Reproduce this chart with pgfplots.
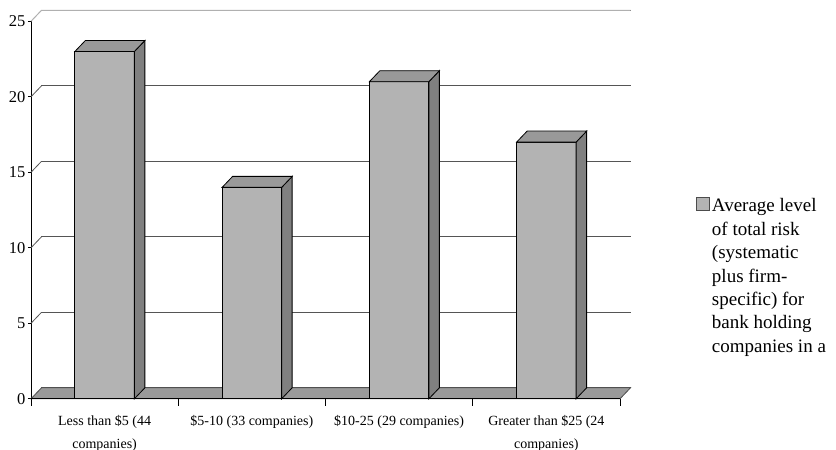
\documentclass[border=0pt]{standalone}
\usepackage{fontspec}
\setmainfont{Liberation Serif}
\usepackage{pgfplots}
\usepackage{pgfplotstable}
\pgfplotsset{compat=1.18}
\definecolor{frontgray}{HTML}{B3B3B3}
\definecolor{topgray}{HTML}{999999}
\definecolor{sidegray}{HTML}{808080}
\definecolor{floorgray}{HTML}{9A9A9A}
\definecolor{gridgray}{HTML}{555555}
\definecolor{lightgrid}{HTML}{B0B0B0}

\pgfplotstableread{
x v
0.5 23
1.5 14
2.5 21
3.5 17
}\riskdata

\newcommand\yunit{15.1}
\newcommand\ddx{10.5}
\newcommand\ddy{11}
\newcommand\hw{29.75}

\pgfdeclareplotmark{bar3d}{%
  \pgfmathsetlengthmacro\hh{\val*\yunit pt}%
  \pgfsetlinewidth{0.8pt}%
  \pgfsetstrokecolor{black}%
  \pgfsetfillcolor{sidegray}%
  \pgfpathmoveto{\pgfpoint{\hw pt}{0pt}}%
  \pgfpathlineto{\pgfpoint{\hw pt}{-\hh}}%
  \pgfpathlineto{\pgfpoint{\hw pt+\ddx pt}{-\hh+\ddy pt}}%
  \pgfpathlineto{\pgfpoint{\hw pt+\ddx pt}{\ddy pt}}%
  \pgfpathclose
  \pgfusepath{fill,stroke}%
  \pgfsetfillcolor{topgray}%
  \pgfpathmoveto{\pgfpoint{-\hw pt}{0pt}}%
  \pgfpathlineto{\pgfpoint{\hw pt}{0pt}}%
  \pgfpathlineto{\pgfpoint{\hw pt+\ddx pt}{\ddy pt}}%
  \pgfpathlineto{\pgfpoint{-\hw pt+\ddx pt}{\ddy pt}}%
  \pgfpathclose
  \pgfusepath{fill,stroke}%
}

\begin{document}
\begin{tikzpicture}
\useasboundingbox (0,0) rectangle (836pt,450pt);
\begin{axis}[
  at={(31pt,51.2pt)}, anchor=south west,
  x=147.25pt, y=15.1pt,
  xmin=0, xmax=4, ymin=0, ymax=25,
  clip=false,
  axis lines*=left,
  axis line style={black, line width=0.8pt},
  ytick={0,5,...,25},
  xtick={0.5,1.5,2.5,3.5},
  xticklabels={{Less than \$5 (44\\companies)},{\$5-10 (33 companies)},{\$10-25 (29 companies)},{Greater than \$25 (24\\companies)}},
  minor xtick={0,1,2,3,4},
  tick align=outside,
  major tick length=3pt,
  minor tick length=7pt,
  major x tick style={draw=none},
  minor x tick style={black, line width=0.8pt},
  major y tick style={black, line width=0.8pt},
  ymajorgrids,
  major grid style={gridgray, line width=0.8pt, xshift=10.5pt, yshift=11pt},
  /pgf/number format/assume math mode=true,
  yticklabel style={font=\fontsize{16.5}{19}\selectfont, xshift=1pt},
  xticklabel style={font=\fontsize{14}{23}\selectfont, align=center, yshift=-10pt},
  legend style={at={(1.129,0.5385)}, anchor=north west, draw=none, inner sep=0pt,
    font=\fontsize{19}{23.5}\selectfont, cells={align=left, anchor=north west}},
]
\pgfplotsinvokeforeach{5,10,15,20}{
  \draw[gridgray, line width=0.8pt] (axis cs:0,#1) -- ++(10.5pt,11pt);
}
\draw[lightgrid, line width=1pt] (axis cs:0,25) -- ++(10.5pt,11pt) -- ++(589pt,0pt);
\filldraw[fill=floorgray, draw=gray!60!black, line width=0.8pt]
  (axis cs:0,0) -- (axis cs:4,0) -- ++(10.5pt,11pt) -- ++(-589pt,0pt) -- cycle;
\addplot[ybar, bar width=59.5pt, fill=frontgray, draw=black, line width=0.8pt,
  legend image code/.code={\path (0pt,0pt); \draw[fill=frontgray, draw=black!70, line width=0.8pt] (0pt,-14.5pt) rectangle (13pt,-1.5pt);}]
  table[x=x, y=v]{\riskdata};
\addlegendentry{Average level\\of total risk\\(systematic\\plus firm-\\specific) for\\bank holding\\companies in a}
\addplot[only marks, mark=bar3d, forget plot,
  visualization depends on={\thisrow{v} \as \val}]
  table[x=x, y=v]{\riskdata};
\draw[black, line width=0.8pt] (axis cs:0,0) -- (axis cs:4,0);
\end{axis}
\end{tikzpicture}
\end{document}
